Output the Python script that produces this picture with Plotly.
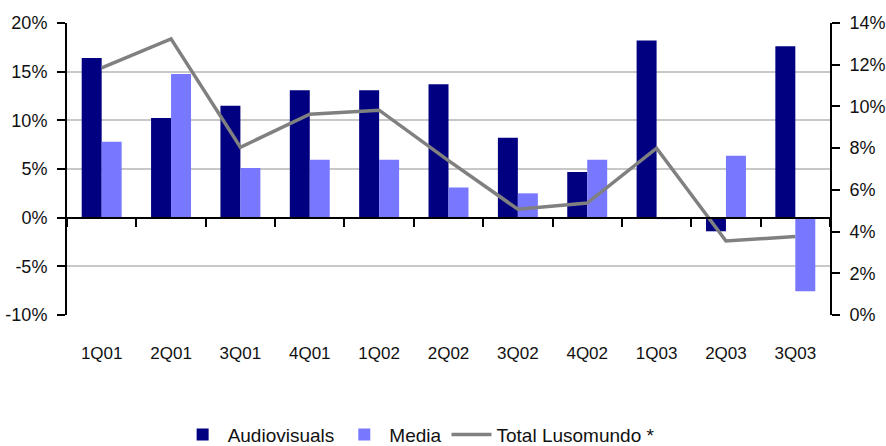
import plotly.graph_objects as go

quarters = ["1Q01", "2Q01", "3Q01", "4Q01", "1Q02", "2Q02", "3Q02", "4Q02", "1Q03", "2Q03", "3Q03"]
audiovisuals = [16.4, 10.25, 11.5, 13.1, 13.1, 13.7, 8.2, 4.7, 18.2, -1.4, 17.6]
media = [7.8, 14.75, 5.1, 5.95, 5.95, 3.1, 2.5, 5.95, -0.15, 6.35, -7.55]
total_lusomundo = [11.85, 13.24, 8.04, 9.63, 9.82, 7.4, 5.07, 5.37, 8.0, 3.55, 3.76]

left_ticks = [-10, -5, 0, 5, 10, 15, 20]
right_ticks = [0, 2, 4, 6, 8, 10, 12, 14]

FONT = "Liberation Sans, Arial, sans-serif"
TEXT = "#111111"

fig = go.Figure()
fig.add_trace(go.Bar(name="Audiovisuals", x=quarters, y=audiovisuals,
                     marker=dict(color="#000080", line=dict(width=0))))
fig.add_trace(go.Bar(name="Media", x=quarters, y=media,
                     marker=dict(color="#7878ff", line=dict(width=0))))
fig.add_trace(go.Scatter(name="Total Lusomundo *", x=quarters, y=total_lusomundo,
                         mode="lines", line=dict(color="#808080", width=3.5),
                         xaxis="x2", yaxis="y2"))

fig.update_layout(
    width=886, height=446,
    margin=dict(l=67, r=56, t=23, b=131, autoexpand=False),
    plot_bgcolor="white", paper_bgcolor="white",
    barmode="group", bargap=0.424, bargroupgap=0,
    font=dict(family=FONT, size=18, color=TEXT),
    showlegend=True,
    legend=dict(orientation="h", x=0.145, xanchor="left", y=-0.41, yanchor="middle",
                font=dict(family=FONT, size=19, color=TEXT),
                traceorder="normal", itemwidth=40, bgcolor="rgba(0,0,0,0)"),
    xaxis=dict(type="category", domain=[0, 1], anchor="y",
               showline=False, ticks="", showgrid=False, zeroline=False,
               tickfont=dict(family=FONT, size=17, color=TEXT),
               ticklabelstandoff=26),
    xaxis2=dict(type="category", overlaying="x", matches="x", anchor="free", position=1/3,
                showline=True, linecolor="black", linewidth=2,
                ticks="outside", tickson="boundaries", ticklen=8, tickwidth=2, tickcolor="black",
                showticklabels=False, showgrid=False, zeroline=False),
    yaxis=dict(range=[-10, 20], tickvals=left_ticks,
               ticktext=[f"{v}%" for v in left_ticks],
               showline=True, linecolor="black", linewidth=2,
               ticks="outside", ticklen=8, tickwidth=2, tickcolor="black",
               showgrid=True, gridcolor="#c8c8c8", gridwidth=2, zeroline=False,
               ticklabelstandoff=6),
    yaxis2=dict(range=[0, 14], tickvals=right_ticks,
                ticktext=[f"{v}%" for v in right_ticks],
                overlaying="y", side="right", anchor="x",
                showline=True, linecolor="black", linewidth=2,
                ticks="outside", ticklen=8, tickwidth=2, tickcolor="black",
                showgrid=False, zeroline=False, ticklabelstandoff=6),
)

fig.write_html("out.html")
